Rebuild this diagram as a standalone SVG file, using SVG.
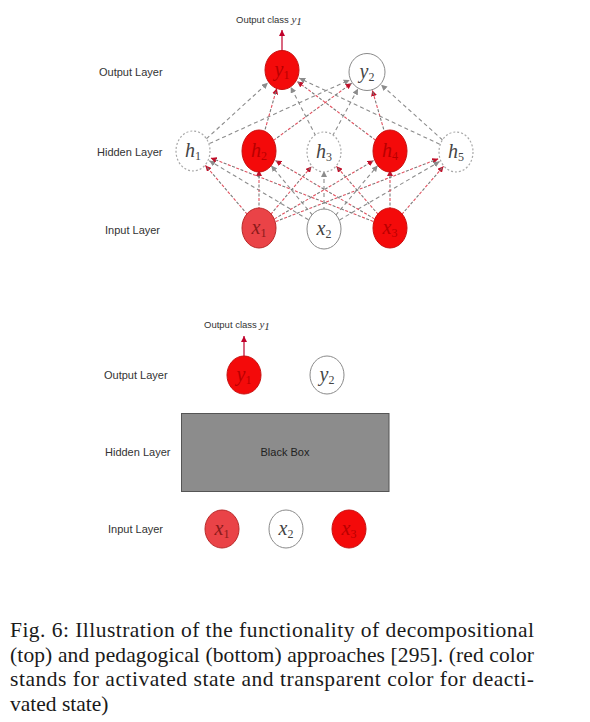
<svg xmlns="http://www.w3.org/2000/svg" width="590" height="722" viewBox="0 0 590 722">
<style>
.bg{fill:#ffffff}
.lbl{font-family:"Liberation Sans",Arial,sans-serif;font-size:11px;fill:#333333}
.oc{font-family:"Liberation Sans",Arial,sans-serif;font-size:9.5px;fill:#333333}
.ocm{font-family:"Liberation Serif","DejaVu Serif",serif;font-style:italic;font-size:11px;fill:#333333}
.math{font-family:"Liberation Serif","DejaVu Serif",serif;font-style:italic;font-size:20px;text-anchor:middle}
.sub{font-style:normal;font-size:12px}
.on{fill:#f40a0a;stroke:#c81010;stroke-width:1}
.on1{fill:#ea4347;stroke:#b82a2a;stroke-width:1}
.off{fill:#ffffff;stroke:#8a8a8a;stroke-width:1}
.dot{fill:#ffffff;stroke:#a8a8a8;stroke-width:1.2;stroke-dasharray:2 2}
.ton{fill:#b80000}
.ton1{fill:#8a1a1a}
.toff{fill:#444444}
.g{stroke:#8c8c8c;stroke-width:1.1;stroke-dasharray:4 3;fill:none;marker-end:url(#ag)}
.r{stroke:#e2505e;stroke-width:1.1;stroke-dasharray:3 6;fill:none;marker-end:url(#ar)}
.rg{stroke:#7a7a7a;stroke-width:1.1;stroke-dasharray:3 6;stroke-dashoffset:4.5;fill:none}
.out{stroke:#c0002a;stroke-width:1.2;fill:none;marker-end:url(#ao)}
.box{fill:#8c8c8c;stroke:#555555;stroke-width:1}
.bb{font-family:"Liberation Sans",Arial,sans-serif;font-size:11px;fill:#222222;text-anchor:middle}
.cap{font-family:"Liberation Serif","DejaVu Serif",serif;font-size:21.5px;fill:#1a1a1a}
</style>
<defs>
<marker id="ag" viewBox="0 0 6 6" refX="6" refY="3" markerWidth="6" markerHeight="6" markerUnits="userSpaceOnUse" orient="auto"><path d="M0,0 L6,3 L0,6 z" fill="#8c8c8c"/></marker>
<marker id="ar" viewBox="0 0 6 6" refX="6" refY="3" markerWidth="6" markerHeight="6" markerUnits="userSpaceOnUse" orient="auto"><path d="M0,0 L6,3 L0,6 z" fill="#c0102a"/></marker>
<marker id="ao" viewBox="0 0 6 6" refX="6" refY="3" markerWidth="6" markerHeight="6" markerUnits="userSpaceOnUse" orient="auto"><path d="M0,0 L6,3 L0,6 z" fill="#c0002a"/></marker>
</defs>
<rect class="bg" x="0" y="0" width="590" height="722"/>

<g id="labels-top">
<text class="lbl" x="99" y="76">Output Layer</text>
<text class="lbl" x="97" y="156">Hidden Layer</text>
<text class="lbl" x="105" y="234">Input Layer</text>
<text x="236" y="23"><tspan class="oc">Output class </tspan><tspan class="ocm">y</tspan><tspan class="ocm" font-size="8" font-style="normal" dy="2">1</tspan></text>
</g>

<g id="connectors-top">
<line class="r" x1="247.3" y1="214.3" x2="205.4" y2="165.4"/><line class="rg" x1="247.3" y1="214.3" x2="205.4" y2="165.4"/>
<line class="r" x1="259" y1="210" x2="259" y2="170"/><line class="rg" x1="259" y1="210" x2="259" y2="170"/>
<line class="r" x1="270.7" y1="214.3" x2="311.6" y2="166.4"/><line class="rg" x1="270.7" y1="214.3" x2="311.6" y2="166.4"/>
<line class="r" x1="274.5" y1="218.9" x2="373.6" y2="160.6"/><line class="rg" x1="274.5" y1="218.9" x2="373.6" y2="160.6"/>
<line class="r" x1="275.8" y1="221.5" x2="438.3" y2="158.8"/><line class="rg" x1="275.8" y1="221.5" x2="438.3" y2="158.8"/>
<line class="g" x1="308.5" y1="219.8" x2="209.3" y2="160.7"/>
<line class="g" x1="312.5" y1="215.2" x2="271.2" y2="165.6"/>
<line class="g" x1="324" y1="211" x2="324" y2="171"/>
<line class="g" x1="335.6" y1="215.3" x2="377.7" y2="165.5"/>
<line class="g" x1="339.6" y1="219.9" x2="439.6" y2="161.6"/>
<line class="r" x1="373.2" y1="221.4" x2="210.7" y2="157.9"/><line class="rg" x1="373.2" y1="221.4" x2="210.7" y2="157.9"/>
<line class="r" x1="374.5" y1="218.9" x2="275.4" y2="160.6"/><line class="rg" x1="374.5" y1="218.9" x2="275.4" y2="160.6"/>
<line class="r" x1="378.2" y1="214.4" x2="336.4" y2="166.3"/><line class="rg" x1="378.2" y1="214.4" x2="336.4" y2="166.3"/>
<line class="r" x1="390" y1="210" x2="390" y2="170"/><line class="rg" x1="390" y1="210" x2="390" y2="170"/>
<line class="r" x1="401.8" y1="214.4" x2="443.6" y2="166.3"/><line class="rg" x1="401.8" y1="214.4" x2="443.6" y2="166.3"/>
<line class="g" x1="206.3" y1="138.9" x2="267.9" y2="82.8"/>
<line class="g" x1="209.4" y1="143.6" x2="349.7" y2="79.9"/>
<line class="r" x1="263.9" y1="133.7" x2="276.8" y2="88.3"/><line class="rg" x1="263.9" y1="133.7" x2="276.8" y2="88.3"/>
<line class="r" x1="273.5" y1="140.4" x2="351.7" y2="83.2"/><line class="rg" x1="273.5" y1="140.4" x2="351.7" y2="83.2"/>
<line class="g" x1="315.8" y1="136" x2="290.7" y2="86.9"/>
<line class="g" x1="332.5" y1="136.1" x2="358" y2="88.7"/>
<line class="r" x1="375.6" y1="140.2" x2="297.2" y2="81.4"/><line class="rg" x1="375.6" y1="140.2" x2="297.2" y2="81.4"/>
<line class="r" x1="385" y1="133.7" x2="372.3" y2="90.2"/><line class="rg" x1="385" y1="133.7" x2="372.3" y2="90.2"/>
<line class="g" x1="439.7" y1="144.3" x2="299.2" y2="78.1"/>
<line class="g" x1="442.6" y1="140" x2="381.1" y2="84.7"/>
<line class="out" x1="282" y1="51" x2="282" y2="30"/>
</g>

<g id="top-y1"><ellipse class="on" cx="282" cy="70" rx="17" ry="19.5"/><text class="math ton" x="282" y="76">y<tspan class="sub" dy="3">1</tspan></text></g>
<g id="top-y2"><ellipse class="off" cx="367" cy="72" rx="18" ry="18.5"/><text class="math toff" x="367" y="78">y<tspan class="sub" dy="3">2</tspan></text></g>
<g id="top-h1"><ellipse class="dot" cx="193" cy="151" rx="17" ry="20"/><text class="math toff" x="193" y="157">h<tspan class="sub" dy="3">1</tspan></text></g>
<g id="top-h2"><ellipse class="on" cx="259" cy="151" rx="17" ry="21"/><text class="math ton" x="259" y="157">h<tspan class="sub" dy="3">2</tspan></text></g>
<g id="top-h3"><ellipse class="dot" cx="324" cy="152" rx="17" ry="20"/><text class="math toff" x="324" y="158">h<tspan class="sub" dy="3">3</tspan></text></g>
<g id="top-h4"><ellipse class="on" cx="390" cy="151" rx="17" ry="21"/><text class="math ton" x="390" y="157">h<tspan class="sub" dy="3">4</tspan></text></g>
<g id="top-h5"><ellipse class="dot" cx="456" cy="152" rx="17" ry="20"/><text class="math toff" x="456" y="158">h<tspan class="sub" dy="3">5</tspan></text></g>
<g id="top-x1"><ellipse class="on1" cx="259" cy="228" rx="17" ry="20"/><text class="math ton1" x="259" y="234">x<tspan class="sub" dy="3">1</tspan></text></g>
<g id="top-x2"><ellipse class="off" cx="324" cy="229" rx="17" ry="20"/><text class="math toff" x="324" y="235">x<tspan class="sub" dy="3">2</tspan></text></g>
<g id="top-x3"><ellipse class="on" cx="390" cy="228" rx="17" ry="20"/><text class="math ton" x="390" y="234">x<tspan class="sub" dy="3">3</tspan></text></g>

<g id="labels-bottom">
<text class="lbl" x="104" y="379" font-size="10.5">Output Layer</text>
<text class="lbl" x="105" y="456" font-size="10.5">Hidden Layer</text>
<text class="lbl" x="108" y="533" font-size="10.5">Input Layer</text>
<text x="204" y="328"><tspan class="oc" font-size="8.5">Output class </tspan><tspan class="ocm" font-size="10">y</tspan><tspan class="ocm" font-size="7.5" font-style="normal" dy="2">1</tspan></text>
</g>
<g id="connectors-bottom">
<line class="out" x1="244" y1="356" x2="244" y2="336"/>
</g>
<g id="black-box"><rect class="box" x="181.5" y="413.5" width="207.5" height="78"/><text class="bb" x="285" y="456">Black Box</text></g>
<g id="bot-y1"><ellipse class="on" cx="244" cy="375" rx="17" ry="19"/><text class="math ton" x="244" y="381">y<tspan class="sub" dy="3">1</tspan></text></g>
<g id="bot-y2"><ellipse class="off" cx="327" cy="375" rx="17" ry="19"/><text class="math toff" x="327" y="381">y<tspan class="sub" dy="3">2</tspan></text></g>
<g id="bot-x1"><ellipse class="on1" cx="222" cy="529" rx="17" ry="19"/><text class="math ton1" x="222" y="535">x<tspan class="sub" dy="3">1</tspan></text></g>
<g id="bot-x2"><ellipse class="off" cx="286" cy="529" rx="17" ry="19"/><text class="math toff" x="286" y="535">x<tspan class="sub" dy="3">2</tspan></text></g>
<g id="bot-x3"><ellipse class="on" cx="349" cy="529" rx="17" ry="19"/><text class="math ton" x="349" y="535">x<tspan class="sub" dy="3">3</tspan></text></g>

<g id="caption">
<text class="cap" x="10" y="637" textLength="524" lengthAdjust="spacing">Fig. 6: Illustration of the functionality of decompositional</text>
<text class="cap" x="10" y="661.5" textLength="524" lengthAdjust="spacing">(top) and pedagogical (bottom) approaches [295]. (red color</text>
<text class="cap" x="10" y="686" textLength="524" lengthAdjust="spacing">stands for activated state and transparent color for deacti-</text>
<text class="cap" x="10" y="710.5">vated state)</text>
</g>
</svg>
